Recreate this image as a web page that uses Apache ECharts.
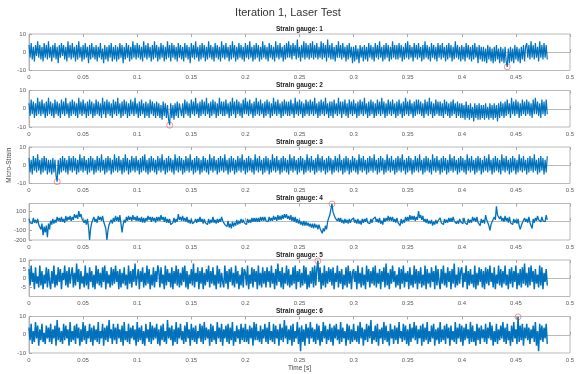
<!DOCTYPE html>
<html>
<head>
<meta charset="utf-8">
<script src="https://cdn.jsdelivr.net/npm/echarts@6/dist/echarts.min.js"></script>
<style>
html, body { margin: 0; padding: 0; background: #fff; }
#chart { width: 576px; height: 374px; }
</style>
</head>
<body>
<div id="chart"></div>
<script>
// sample spacing of the recorded signals (s)
var dt = 0.001;

var gaugeNames = ['Strain gauge: 1', 'Strain gauge: 2', 'Strain gauge: 3', 'Strain gauge: 4', 'Strain gauge: 5', 'Strain gauge: 6'];

var sg1 = [
  4,-3,5,-4,3,-5,4,-2,6,-3,4,-4,3,-5,5,-3,4,-4,6,-3,
  3,-5,4,-3,5,-4,3,-6,4,-3,5,-2,4,-4,3,-5,6,-3,4,-4,
  5,-3,3,-5,4,-4,6,-3,3,-5,4,-4,5,-3,3,-6,4,-4,5,-3,
  3,-4,4,-5,3,-3,5,-4,2,-6,4,-4,3,-5,4,-3,5,-5,3,-4,
  4,-5,3,-4,5,-3,4,-6,3,-4,5,-3,4,-5,3,-4,6,-3,4,-4,
  5,-3,4,-4,3,-5,6,-3,4,-4,5,-3,3,-5,4,-4,6,-3,4,-5,
  3,-4,5,-3,4,-5,3,-4,6,-3,4,-5,5,-3,4,-4,3,-5,5,-3,
  4,-4,3,-5,5,-3,4,-4,3,-6,5,-3,4,-4,6,-3,3,-5,4,-4,
  5,-3,4,-5,3,-4,6,-3,4,-4,3,-5,5,-3,4,-4,3,-5,6,-3,
  4,-4,5,-3,3,-5,4,-4,6,-3,4,-5,3,-4,5,-3,4,-4,3,-5,
  5,-3,4,-4,6,-3,3,-5,4,-4,5,-3,4,-5,3,-4,6,-3,4,-4,
  3,-5,5,-3,4,-4,3,-5,6,-3,4,-4,5,-3,3,-5,4,-4,5,-3,
  6,-3,4,-4,5,-2,4,-4,7,-3,3,-5,4,-3,6,-4,5,-3,4,-4,
  5,-3,6,-4,4,-3,5,-4,3,-3,6,-4,5,-3,4,-5,7,-3,4,-4,
  5,-4,3,-5,4,-3,6,-3,4,-4,5,-3,3,-5,4,-4,5,-3,3,-6,
  3,-5,4,-4,2,-6,4,-3,3,-5,4,-4,3,-5,5,-3,4,-4,3,-5,
  5,-3,4,-4,6,-3,3,-5,4,-4,5,-3,4,-5,3,-4,6,-3,4,-4,
  4,-4,5,-3,4,-5,3,-4,5,-3,6,-4,4,-3,3,-5,5,-3,4,-4,
  5,-3,3,-5,4,-4,6,-3,4,-4,3,-5,5,-3,4,-4,3,-5,5,-3,
  4,-4,5,-3,3,-5,4,-4,5,-3,4,-5,3,-4,6,-3,4,-4,3,-5,
  4,-4,3,-5,5,-3,4,-4,3,-5,4,-4,5,-3,3,-6,4,-4,3,-5,
  3,-5,2,-6,4,-4,3,-5,2,-6,3,-5,4,-4,2,-6,3,-5,2,-6,
  3,-5,-8,2,-6,3,-5,2,-6,4,-4,3,-5,2,-6,3,-4,4,-5,3,
  5,-3,4,-4,6,-3,4,-4,5,-3,3,-5,6,-3,4,-4,5,-3,4,-4
];

var sg2 = [
  3,-4,5,-3,4,-5,3,-4,6,-3,4,-4,5,-3,3,-5,4,-4,6,-3,
  4,-4,3,-5,5,-3,4,-4,3,-5,5,-3,4,-4,6,-3,3,-5,4,-4,
  5,-3,4,-4,3,-5,6,-3,4,-4,5,-3,3,-5,4,-4,5,-3,4,-5,
  3,-4,5,-3,4,-4,3,-5,6,-3,4,-5,5,-3,4,-4,3,-5,5,-3,
  4,-4,6,-3,3,-5,4,-4,5,-3,4,-5,3,-4,5,-3,4,-4,6,-3,
  3,-5,4,-4,5,-3,3,-5,4,-4,3,-5,5,-3,4,-4,3,-5,4,-4,
  3,-5,2,-6,4,-4,3,-5,2,-6,-9,3,-5,2,-6,3,-4,4,-5,3,
  4,-4,3,-5,5,-3,4,-4,3,-5,5,-3,4,-4,6,-3,3,-5,4,-4,
  5,-3,4,-4,6,-3,3,-5,4,-4,5,-3,4,-5,3,-4,6,-3,4,-4,
  4,-4,5,-3,3,-5,4,-4,6,-3,4,-5,5,-3,4,-4,3,-5,5,-3,
  6,-3,4,-4,5,-3,3,-5,4,-4,6,-3,4,-4,5,-3,3,-5,4,-4,
  5,-3,4,-5,3,-4,6,-3,4,-4,5,-3,3,-5,4,-4,5,-3,4,-4,
  4,-4,5,-3,3,-5,6,-3,4,-4,5,-3,4,-5,3,-4,5,-3,4,-4,
  5,-3,4,-4,6,-3,3,-5,4,-4,5,-3,4,-4,6,-3,3,-5,4,-4,
  4,-5,5,-3,3,-4,6,-3,4,-5,4,-3,5,-4,3,-5,5,-3,4,-4,
  5,-3,3,-5,4,-4,5,-3,4,-4,6,-3,3,-5,4,-4,5,-3,4,-5,
  3,-4,5,-3,4,-4,6,-3,4,-5,3,-4,5,-3,4,-4,5,-3,3,-5,
  4,-4,5,-3,3,-5,4,-4,6,-3,4,-4,5,-3,3,-5,4,-4,5,-3,
  5,-3,4,-4,3,-5,5,-3,4,-4,6,-3,4,-5,3,-4,5,-3,4,-4,
  4,-4,3,-5,5,-3,4,-4,3,-5,4,-4,5,-3,3,-5,4,-4,3,-5,
  3,-5,2,-6,4,-5,2,-6,3,-5,1,-7,3,-5,2,-6,3,-6,2,-5,
  2,-6,3,-5,1,-6,3,-5,2,-6,3,-5,2,-7,3,-5,4,-4,3,-5,
  4,-4,5,-3,3,-5,6,-3,4,-4,5,-3,4,-5,3,-4,5,-3,4,-4,
  5,-3,4,-4,3,-5,5,-3,6,-3,4,-4,3,-5,5,-3,4,-4,5,-3
];

var sg3 = [
  4,-4,3,-5,5,-3,4,-4,6,-3,3,-5,4,-4,5,-3,4,-5,3,-4,
  3,-5,4,-4,3,-6,-9,3,-5,4,-4,5,-3,4,-4,3,-5,5,-3,4,
  -4,5,-3,4,-5,3,-4,6,-3,4,-4,5,-3,3,-5,4,-4,5,-3,4,
  -5,3,-4,5,-3,4,-4,6,-3,3,-5,4,-4,5,-3,4,-5,3,-4,6,
  -3,4,-4,5,-3,3,-5,4,-4,6,-3,4,-5,3,-4,5,-3,4,-4,5,
  -3,3,-5,4,-4,5,-3,6,-4,3,-5,4,-4,5,-3,4,-4,3,-5,5,
  -3,4,-4,6,-3,3,-5,4,-4,5,-3,4,-4,3,-5,6,-3,4,-4,5,
  -3,4,-5,3,-4,5,-3,4,-4,6,-3,3,-5,4,-4,5,-3,4,-5,3,
  -4,5,-3,4,-4,3,-5,6,-3,4,-4,5,-3,3,-5,4,-4,5,-3,4,
  -4,6,-3,3,-5,4,-4,5,-3,4,-5,3,-4,5,-3,4,-4,6,-3,3,
  -5,4,-4,5,-3,4,-4,3,-5,6,-3,4,-4,5,-3,3,-5,4,-4,5,
  -3,4,-5,3,-4,6,-3,4,-4,5,-3,3,-5,4,-4,5,-3,4,-4,3,
  -5,6,-3,4,-4,5,-3,3,-5,4,-4,5,-3,4,-5,3,-4,6,-3,4,
  -4,5,-3,3,-5,4,-4,6,-3,4,-4,5,-3,3,-5,4,-4,5,-3,4,
  -5,3,-4,5,-3,4,-4,6,-3,3,-5,4,-4,5,-3,4,-5,3,-4,5,
  -3,4,-4,3,-5,6,-3,4,-4,5,-3,3,-5,4,-4,5,-3,4,-4,6,
  -3,3,-5,4,-4,5,-3,4,-5,3,-4,6,-3,4,-4,5,-3,3,-5,4,
  -4,5,-3,4,-4,6,-3,3,-5,4,-4,5,-3,4,-5,3,-4,5,-3,4,
  -4,6,-3,3,-5,4,-4,5,-3,4,-4,3,-5,6,-3,4,-4,5,-3,3,
  -5,4,-4,5,-3,4,-5,3,-4,6,-3,4,-4,5,-3,3,-5,4,-4,5,
  -3,4,-4,3,-5,6,-3,4,-4,5,-3,3,-5,4,-4,5,-3,4,-5,3,
  -4,5,-3,4,-4,6,-3,3,-5,4,-4,5,-3,4,-4,3,-5,6,-3,4,
  -4,5,-3,3,-5,4,-4,5,-3,4,-5,3,-4,6,-3,4,-4,5,-3,3,
  -5,4,-4,5,-3,4,-4,6,-3,3,-5,4,-4,5,-3,4,-5,3,-4,5
];

var sg4 = [
  20,-20,0,-30,30,-20,10,-25,20,-40,-40,-90,-30,-150,-60,-120,-50,-170,-30,-90,
  0,-40,20,-30,10,-20,40,0,30,-10,40,-10,20,-20,50,0,40,10,50,0,
  40,10,70,30,60,20,100,40,70,20,40,-20,10,-40,20,-60,-200,-80,-20,-40,
  40,-10,20,-20,50,10,40,0,50,-10,0,-80,-200,-100,-40,-60,10,-30,30,-10,
  50,0,40,-10,60,-30,-120,-40,10,-20,40,0,50,10,40,0,60,10,40,0,
  50,0,30,-10,40,-20,30,-20,30,0,50,10,40,-10,40,0,30,-20,40,0,
  40,0,60,10,40,-10,40,-20,20,-20,20,-40,-50,-20,30,-20,20,-10,70,10,
  40,0,50,0,30,-10,40,-20,10,-30,20,-30,-40,-10,20,-20,20,-10,40,-10,
  20,-30,20,-20,0,-40,20,-30,10,-20,40,-20,10,-30,20,-20,20,-10,40,0,
  10,-40,-20,-60,0,-70,-30,-80,-10,-60,-20,-50,10,-40,0,-30,20,-20,10,-20,
  0,-40,20,-20,10,-20,30,-10,30,-10,30,-10,30,-10,40,0,40,0,40,0,
  20,-10,40,0,30,0,50,10,40,0,60,10,50,10,60,20,70,30,70,20,
  50,10,60,0,40,-10,40,-20,20,-30,10,-40,-10,-50,0,-50,-10,-50,-20,-60,
  -30,-70,-30,-80,-30,-70,-40,-90,-40,-80,-60,-130,-80,-110,-50,-90,-10,30,60,120,
  175,90,80,30,50,0,30,-10,30,-20,10,-30,20,-20,10,-30,20,-20,10,-10,
  30,-20,10,-30,20,-30,0,-40,20,-20,20,-10,30,-20,0,-30,20,-20,20,0,
  40,-10,20,-20,30,-30,0,-40,30,-10,30,0,50,0,40,0,40,-10,20,-20,
  30,-20,-10,-50,20,-30,10,-20,40,0,40,0,60,10,50,10,50,0,40,10,
  100,30,60,10,50,-10,20,-20,20,-30,0,-30,10,-50,-10,-40,10,-30,0,-20,
  30,-20,0,-40,20,-20,10,-20,30,-10,30,-10,40,0,20,-30,0,-30,20,-10,
  10,-30,30,-20,-10,-40,20,-20,10,-20,40,0,30,-10,40,-20,-20,-50,20,-20,
  10,-30,60,10,30,-50,-100,-40,-10,-30,40,10,150,60,80,20,50,0,30,-10,
  50,0,30,-20,40,-20,-20,-40,20,-20,10,-30,20,-50,-90,-50,-20,-30,30,-10,
  20,-20,40,-20,-20,-80,20,-20,30,0,50,10,30,-10,40,0,20,-10,60,10
];

var sg5 = [
  5,-4,7,-2,3,-6,6,-3,1,-5,7,-4,4,-6,2,-3,6,-5,5,-2,
  -6,4,-3,7,-5,2,-4,6,-2,5,-6,3,-1,7,-4,4,-5,6,-3,2,
  6,-5,3,-4,8,-2,5,-6,4,-3,1,-5,7,-4,3,-6,6,-2,4,-5,
  2,-6,7,-3,5,-4,3,-5,6,-2,7,-6,4,-3,2,-5,6,-4,5,-3,
  7,-2,4,-6,5,-5,3,-3,6,-4,2,-6,7,-3,4,-5,5,-2,8,-4,
  -3,5,-6,4,-2,6,-5,3,-4,7,-3,5,-6,2,-4,6,-5,4,-2,7,
  4,-5,6,-3,2,-6,7,-4,5,-2,3,-5,6,-6,4,-3,7,-4,5,-5,
  3,-4,6,-2,7,-5,4,-6,2,-3,5,-4,8,-5,3,-2,6,-6,4,-3,
  6,-6,3,-4,5,-2,7,-5,4,-3,6,-4,2,-6,7,-3,5,-5,3,-2,
  -5,7,-3,4,-6,5,-2,6,-4,3,-5,7,-3,4,-6,2,-4,6,-5,5,
  3,-4,7,-6,2,-3,6,-5,5,-2,4,-6,7,-4,3,-5,6,-3,4,-5,
  6,-2,4,-5,7,-3,3,-6,5,-4,8,-2,4,-5,6,-6,3,-3,7,-4,
  5,-5,2,-4,6,-3,7,-6,4,-2,5,-5,3,-4,7,-3,6,-6,2,-5,
  4,-3,6,-5,7,-4,5,9.5,-2,6,-6,3,-4,7,-5,4,-3,6,-2,5,
  -4,6,-6,3,-2,7,-5,4,-3,5,-6,2,-4,6,-5,7,-3,4,-6,3,
  5,-2,4,-6,7,-3,3,-5,6,-4,2,-6,7,-2,5,-5,4,-3,6,-4,
  7,-5,3,-3,5,-6,4,-2,6,-5,8,-4,3,-6,5,-3,7,-2,4,-5,
  2,-4,6,-6,5,-3,7,-5,3,-2,4,-6,6,-4,2,-5,7,-3,5,-6,
  4,-3,6,-5,2,-4,7,-6,5,-3,3,-5,6,-2,4,-6,7,-4,5,-2,
  -6,5,-3,7,-4,3,-5,6,-2,4,-6,5,-3,8,-5,2,-4,6,-3,4,
  6,-5,3,-2,7,-6,4,-4,5,-3,2,-5,7,-6,3,-4,6,-2,5,-5,
  4,-6,6,-3,5,-4,7,-2,3,-5,6,-6,2,-3,7,-4,5,-5,4,-3,
  7,-4,2,-6,5,-3,6,-5,4,-2,7,-6,3,-4,5,-5,6,-3,8,-4,
  3,-5,6,-4,7,-2,4,-6,5,-3,2,-5,7,-4,6,-6,3,-2,5,-4
];

var sg6 = [
  4,-3,6,-5,2,-4,7,-2,5,-6,3,-3,6,-4,1,-5,5,-2,4,-4,
  6,-5,3,-2,5,-6,8,-3,4,-4,2,-5,6,-3,5,-2,3,-6,7,-4,
  2,-3,5,-5,6,-2,4,-6,3,-4,7,-3,5,-5,2,-2,6,-4,4,-6,
  5,-3,3,-4,7,-5,2,-2,6,-6,4,-3,5,-4,8,-2,3,-5,6,-3,
  4,-5,6,-2,3,-4,5,-6,7,-3,2,-4,6,-5,4,-2,5,-3,3,-6,
  7,-4,4,-3,5,-5,2,-6,6,-2,3,-4,7,-5,5,-3,4,-2,6,-5,
  3,-6,5,-3,6,-4,2,-5,8,-2,4,-3,5,-6,3,-4,7,-5,4,-2,
  6,-3,2,-5,5,-4,7,-2,3,-6,6,-3,4,-4,5,-5,2,-2,6,-4,
  5,-5,7,-3,4,-2,3,-6,6,-4,5,-3,2,-5,7,-2,4,-4,6,-6,
  3,-2,5,-4,6,-5,4,-3,7,-6,2,-4,5,-2,3,-5,6,-3,4,-4,
  6,-4,3,-5,5,-2,4,-6,7,-3,6,-3,2,-4,5,-5,3,-2,6,-4,
  4,-5,7,-3,2,-4,6,-5,5,-2,3,-6,6,-3,4,-4,8,-2,5,-5,
  3,-3,5,-6,6,-4,2,-2,7,-5,4,-9,5,-4,3,-6,6,-2,4,-5,
  7,-2,4,-4,3,-5,6,-3,5,-6,2,-4,7,-2,5,-5,3,-3,6,-4,
  4,-6,5,-2,6,-3,3,-5,7,-4,4,-2,2,-6,6,-3,5,-5,3,-4,
  6,-3,2,-4,5,-5,7,-2,4,-6,3,-3,6,-4,5,-2,8,-5,2,-3,
  5,-4,6,-6,3,-2,4,-5,7,-3,5,-4,2,-6,6,-2,3,-5,5,-3,
  4,-5,7,-2,2,-4,6,-3,5,-5,3,-6,6,-4,4,-2,7,-3,5,-5,
  3,-2,5,-6,6,-4,4,-3,7,-5,2,-4,5,-2,6,-6,3,-3,4,-5,
  7,-4,3,-3,5,-5,6,-2,4,-6,5,-3,2,-4,7,-5,4,-2,6,-4,
  5,-6,4,-3,6,-2,3,-5,7,-4,5,-4,2,-6,6,-3,4,-5,5,-2,
  3,-4,6,-5,4,-2,7,-3,5,-6,2,-4,6,-5,3,-3,5,-2,7,-4,
  4,-5,6,-3,2,-6,5,-4,7,-2,3,-5,9.8,-4,5,-3,6,-6,4,-2,
  6,-3,4,-5,3,-2,5,-4,7,-6,2,-9,6,-3,5,-4,4,-2,6,-5
];

// red circles (time, value) marked on each gauge
var markTimes = [0.442, 0.13, 0.026, 0.28, 0.267, 0.452];
var markValues = [-8, -9, -9, 175, 9.5, 9.8];

// y axis limits and tick spacing per gauge
var yMins = [-10, -10, -10, -200, -10, -10];
var yMaxs = [10, 10, 10, 180, 10, 10];
var yIntervals = [10, 10, 10, 100, 5, 10];

var signals = [sg1, sg2, sg3, sg4, sg5, sg6];
var lineWidths = [1.2, 1.2, 1.2, 1.3, 1.5, 1.5];

var gridTops = [34, 90.5, 147, 203.5, 260, 316.5];
var gridLeft = 29, gridWidth = 541, gridHeight = 36.5;
var lineColor = '#0072BD';
var axisColor = '#a8a8a8';
var labelColor = '#5a5a5a';

function toPairs(vals) {
  return vals.map(function (v, i) { return [+(i * dt).toFixed(4), v]; });
}

var chart = echarts.init(document.getElementById('chart'), null, { renderer: 'canvas' });

var grids = [], xAxes = [], yAxes = [], series = [], graphics = [];

graphics.push({
  type: 'text', left: 'center', top: 7,
  style: { text: 'Iteration 1, Laser Test', font: '11px "Liberation Sans", Arial', fill: '#333' }
});

for (var i = 0; i < 6; i++) {
  grids.push({
    left: gridLeft, top: gridTops[i], width: gridWidth, height: gridHeight,
    containLabel: false, outerBoundsMode: 'none',
    show: true, borderColor: axisColor, borderWidth: 0.8, backgroundColor: 'transparent'
  });
  // bottom axis with labels
  xAxes.push({
    gridIndex: i, type: 'value', min: 0, max: 0.5, interval: 0.05,
    axisLine: { lineStyle: { color: axisColor, width: 0.8 } },
    axisTick: { inside: true, length: 3, lineStyle: { color: axisColor } },
    axisLabel: { fontSize: 6, color: labelColor, margin: 4, fontFamily: 'Liberation Sans' },
    splitLine: { show: false },
    name: i === 5 ? 'Time [s]' : '',
    nameLocation: 'middle', nameGap: 12, nameMoveOverlap: false,
    nameTextStyle: { fontSize: 6.5, color: '#444', fontFamily: 'Liberation Sans' }
  });
  // top edge ticks (box)
  xAxes.push({
    gridIndex: i, type: 'value', position: 'top', min: 0, max: 0.5, interval: 0.05,
    axisLine: { show: false },
    axisTick: { inside: true, length: 3, lineStyle: { color: axisColor } },
    axisLabel: { show: false },
    splitLine: { show: false }
  });
  yAxes.push({
    gridIndex: i, type: 'value', min: yMins[i], max: yMaxs[i], interval: yIntervals[i],
    axisLine: { show: true, lineStyle: { color: axisColor, width: 0.8 } },
    axisTick: { show: true, inside: true, length: 3, lineStyle: { color: axisColor } },
    axisLabel: {
      fontSize: 6, color: labelColor, margin: 3, fontFamily: 'Liberation Sans',
      showMinLabel: i !== 4, showMaxLabel: i !== 3
    },
    splitLine: { show: false },
    name: i === 2 ? 'Micro-Strain' : '',
    nameLocation: 'middle', nameGap: 16, nameRotate: 90, nameMoveOverlap: false,
    nameTextStyle: { fontSize: 6.5, color: '#444', fontFamily: 'Liberation Sans' }
  });
  series.push({
    type: 'line', xAxisIndex: i * 2, yAxisIndex: i,
    data: toPairs(signals[i]),
    showSymbol: false, sampling: 'none', animation: false,
    lineStyle: { color: lineColor, width: lineWidths[i] }
  });
  series.push({
    type: 'scatter', xAxisIndex: i * 2, yAxisIndex: i,
    data: [[markTimes[i], markValues[i]]],
    symbol: 'circle', symbolSize: 6, animation: false,
    itemStyle: { color: 'rgba(0,0,0,0)', borderColor: '#e4605c', borderWidth: 0.8 }
  });
  graphics.push({
    type: 'text', x: gridLeft + gridWidth / 2, y: gridTops[i] - 5,
    style: {
      text: gaugeNames[i], font: 'bold 6.5px "Liberation Sans", Arial', fill: '#1a1a1a',
      textAlign: 'center', textVerticalAlign: 'middle'
    }
  });
}

var option = {
  backgroundColor: '#fff',
  animation: false,
  grid: grids,
  xAxis: xAxes,
  yAxis: yAxes,
  series: series,
  graphic: graphics
};
chart.setOption(option);
</script>
</body>
</html>
